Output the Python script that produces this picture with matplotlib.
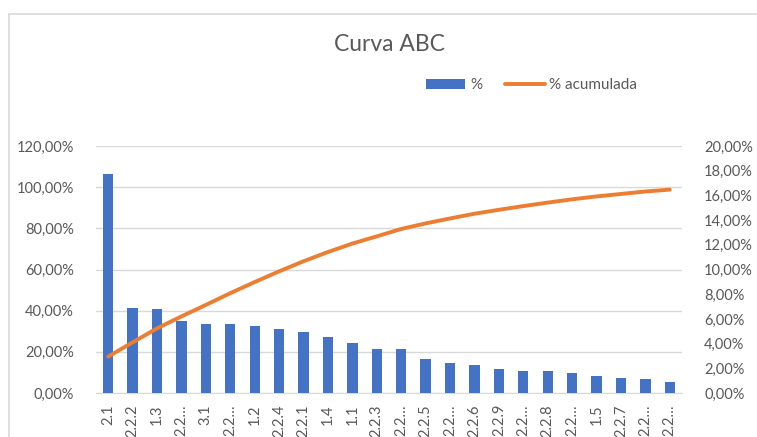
import numpy as np
import matplotlib as mpl
import matplotlib.pyplot as plt
from matplotlib.patches import Rectangle

mpl.rc('font', family='Lato')
plt.rcParams.update({'font.size': 10.5})

categorias = ['2.1', '2.2.2', '1.3', '2.2…', '3.1', '2.2…', '1.2', '2.2.4',
              '2.2.1', '1.4', '1.1', '2.2.3', '2.2…', '2.2.5', '2.2…', '2.2.6',
              '2.2.9', '2.2…', '2.2.8', '2.2…', '1.5', '2.2.7', '2.2…', '2.2…']
porcentaje = [17.71, 6.86, 6.80, 5.86, 5.61, 5.61, 5.45, 5.15,
              4.94, 4.51, 4.07, 3.56, 3.54, 2.73, 2.43, 2.24,
              1.94, 1.75, 1.75, 1.59, 1.38, 1.24, 1.16, 0.92]
acumulada = [17.7, 24.6, 31.4, 37.2, 42.8, 48.5, 53.9, 59.1,
             64.0, 68.5, 72.6, 76.1, 79.7, 82.4, 84.8, 87.1,
             89.0, 90.8, 92.5, 94.1, 95.5, 96.7, 97.9, 98.8]

azul = '#4472C4'
naranja = '#ED7D31'
gris = '#595959'
grid_c = '#D9D9D9'

fig = plt.figure(figsize=(7.57, 4.37), dpi=100)
fig.patches.append(Rectangle((9/757, -0.1), 2, 1.1 - 13.5/437, transform=fig.transFigure,
                             fill=False, edgecolor=grid_c, linewidth=1.2))

ax = fig.add_axes([96/757, 1-393/437, 586/757, 247/437])
ax2 = ax.twinx()
ax3 = ax.twinx()
ax.set_zorder(1)
ax2.set_zorder(2)
ax3.set_zorder(3)
for a in (ax2, ax3):
    a.patch.set_visible(False)

x = np.arange(len(categorias))

# eje izquierdo: rejilla
ax.set_ylim(0, 120)
ax.set_yticks(np.arange(0, 121, 20))
ax.set_yticklabels(['%d,00%%' % v for v in range(0, 121, 20)])
ax.grid(axis='y', color=grid_c, linewidth=1)
ax.set_xlim(-0.5, len(categorias) - 0.5)
ax.set_xticks(x)
ax.set_xticklabels(categorias, rotation=90, va='top', ha='center')

# barras, eje derecho
ax2.bar(x, porcentaje, width=0.42, color=azul, label='%')
ax2.set_ylim(0, 20)
ax2.set_yticks(np.arange(0, 21, 2))
ax2.set_yticklabels(['%d,00%%' % v for v in range(0, 21, 2)])

# curva acumulada, eje izquierdo
ax3.plot(x, acumulada, color=naranja, linewidth=2.8, solid_capstyle='round', label='% acumulada')
ax3.set_ylim(0, 120)
ax3.set_yticks([])

for a in (ax, ax2, ax3):
    for s in a.spines.values():
        s.set_visible(False)
ax.spines['bottom'].set_visible(True)
ax.spines['bottom'].set_color(grid_c)
ax.tick_params(axis='both', length=0, colors=gris, labelsize=10.5)
ax.tick_params(axis='y', pad=16)
ax.tick_params(axis='x', pad=8)
ax2.tick_params(axis='y', length=0, colors=gris, labelsize=10.5, pad=16)

fig.text(0.515, 0.899, 'Curva ABC', ha='center', va='center', fontsize=16.5, color=gris)

h2, l2 = ax2.get_legend_handles_labels()
h3, l3 = ax3.get_legend_handles_labels()
fig.legend(h2 + h3, l2 + l3, loc='center', bbox_to_anchor=(0.702, 0.805), ncol=2,
           frameon=False, handlelength=2.6, handleheight=0.6, handletextpad=0.3,
           columnspacing=1.5, labelcolor=gris, fontsize=11)

fig.savefig('out.png', dpi=100)
